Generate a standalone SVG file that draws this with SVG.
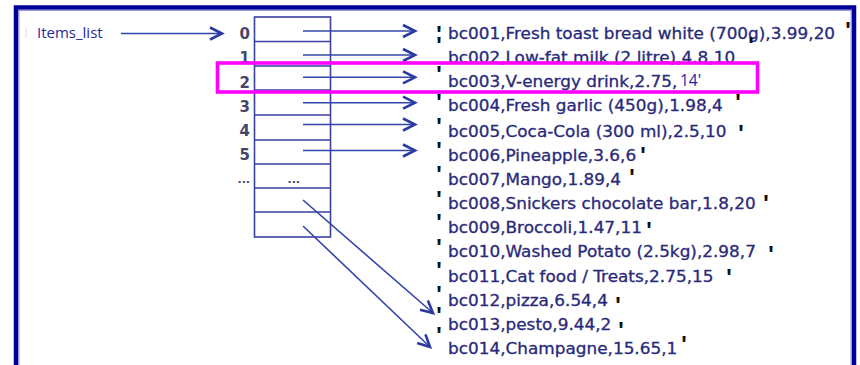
<svg xmlns="http://www.w3.org/2000/svg" width="860" height="365" viewBox="0 0 860 365">
<defs>
<marker id="ah" markerUnits="userSpaceOnUse" markerWidth="16" markerHeight="16" refX="13" refY="7" orient="auto" viewBox="0 0 16 14">
<path d="M1,1 L13,7 L1,13" fill="none" stroke="#2a3aa0" stroke-width="2.6" stroke-linejoin="miter"/>
</marker>
</defs>
<style>
.lbl{font-family:"DejaVu Sans",Verdana,sans-serif;font-size:15px;font-weight:bold;fill:#45456a;text-anchor:end}
.it{font-family:"DejaVu Sans",Verdana,sans-serif;font-size:15px;fill:#2a2a7a;stroke:#2a2a7a;stroke-width:0.3}
.tk{font-family:"Liberation Sans",Arial,sans-serif;font-size:23px;font-weight:bold;fill:#111;text-anchor:middle}
.ln{stroke:#3a42a0;stroke-width:1.6;fill:none}
.arr{stroke:#3344aa;stroke-width:1.6;fill:none;marker-end:url(#ah)}
</style>
<rect x="0" y="0" width="860" height="365" fill="#ffffff"/>
<g id="frame">
<rect x="16" y="7.5" width="838" height="400" fill="none" stroke="#000099" stroke-width="4.5"/>
<rect x="18.8" y="10.3" width="832.4" height="400" fill="none" stroke="#8a8ad8" stroke-width="1.2"/>
</g>
<g id="items_list">
<line x1="26" y1="27" x2="26" y2="38" stroke="#dcdce8" stroke-width="1"/>
<text x="37" y="38" font-family="'Open Sans',sans-serif" font-size="15" fill="#1f2a99">Items_list</text>
</g>
<g id="array">
<rect x="254.5" y="17" width="76" height="220" class="ln"/>
<path class="ln" d="M254.5,41.5H330.5M254.5,66H330.5M254.5,90H330.5M254.5,115H330.5M254.5,140H330.5M254.5,164H330.5M254.5,188H330.5M254.5,212H330.5"/>
<text class="lbl" x="250" y="39">0</text>
<text class="lbl" x="250" y="63">1</text>
<text class="lbl" x="250" y="112">3</text>
<text class="lbl" x="250" y="136">4</text>
<text class="lbl" x="250" y="160">5</text>
<text class="lbl" x="250" y="183" style="font-size:11px">...</text>
<text class="lbl" x="300" y="183" style="font-size:11px">...</text>
</g>
<g id="list" transform="translate(448,0) scale(1.125,1)">
<text class="it" x="0" y="39">bc001,Fresh toast bread white (700g),3.99,20</text>
<text class="it" x="0" y="63">bc002,Low-fat milk (2 litre),4.8,10</text>
<text class="it" x="0" y="111.5">bc004,Fresh garlic (450g),1.98,4</text>
<text class="it" x="0" y="137">bc005,Coca-Cola (300 ml),2.5,10</text>
<text class="it" x="0" y="161.5">bc006,Pineapple,3.6,6</text>
<text class="it" x="0" y="185">bc007,Mango,1.89,4</text>
<text class="it" x="0" y="209">bc008,Snickers chocolate bar,1.8,20</text>
<text class="it" x="0" y="233">bc009,Broccoli,1.47,11</text>
<text class="it" x="0" y="257">bc010,Washed Potato (2.5kg),2.98,7</text>
<text class="it" x="0" y="282">bc011,Cat food / Treats,2.75,15</text>
<text class="it" x="0" y="306">bc012,pizza,6.54,4</text>
<text class="it" x="0" y="330">bc013,pesto,9.44,2</text>
<text class="it" x="0" y="354">bc014,Champagne,15.65,1</text>
</g>
<g id="ticks">
<text class="tk" x="439" y="43">'</text><text class="tk" x="848" y="39">'</text>
<text class="tk" x="439" y="54">'</text><text class="tk" x="751" y="54">'</text>
<text class="tk" x="439" y="111">'</text><text class="tk" x="738" y="111">'</text>
<text class="tk" x="439" y="135">'</text><text class="tk" x="741" y="142">'</text>
<text class="tk" x="439" y="159">'</text><text class="tk" x="643" y="164">'</text>
<text class="tk" x="439" y="183">'</text><text class="tk" x="632" y="186">'</text>
<text class="tk" x="439" y="208">'</text><text class="tk" x="766" y="212">'</text>
<text class="tk" x="439" y="231">'</text><text class="tk" x="649" y="239">'</text>
<text class="tk" x="439" y="256">'</text><text class="tk" x="771" y="263">'</text>
<text class="tk" x="439" y="279">'</text><text class="tk" x="729" y="286">'</text>
<text class="tk" x="439" y="303">'</text><text class="tk" x="618" y="314">'</text>
<text class="tk" x="439" y="324">'</text><text class="tk" x="621" y="339">'</text>
<text class="tk" x="439" y="344">'</text><text class="tk" x="684" y="353">'</text>
</g>
<g id="connectors">
<line class="arr" x1="121" y1="33.5" x2="222" y2="33.5"/>
<line class="arr" x1="303" y1="31" x2="415" y2="31"/>
<line class="arr" x1="303" y1="55" x2="415" y2="55"/>
<line class="arr" x1="303" y1="102.7" x2="415" y2="102.7"/>
<line class="arr" x1="303" y1="124.5" x2="415" y2="124.5"/>
<line class="arr" x1="303" y1="150.5" x2="415" y2="150.5"/>
<line class="arr" x1="303" y1="200" x2="433" y2="313"/>
<line class="arr" x1="303" y1="226" x2="430" y2="347"/>
</g>
<g id="highlight">
<rect x="219.5" y="65" width="33.5" height="25" fill="#ffffff"/>
<rect x="332" y="65" width="423.5" height="25" fill="#ffffff"/>
<text class="lbl" x="250" y="88">2</text>
<line class="arr" x1="303" y1="77.3" x2="415" y2="77.3"/>
<text class="tk" x="439" y="83">'</text>
<g transform="translate(448,0) scale(1.125,1)"><text class="it" x="0" y="87">bc003,V-energy drink,2.75,</text></g>
<text x="680" y="86" font-family="'Open Sans',sans-serif" font-size="15.5" fill="#1a22aa">14'</text>
<rect x="217.5" y="63" width="540" height="29" fill="none" stroke="#ff00ff" stroke-width="3.6"/>
</g>
</svg>
